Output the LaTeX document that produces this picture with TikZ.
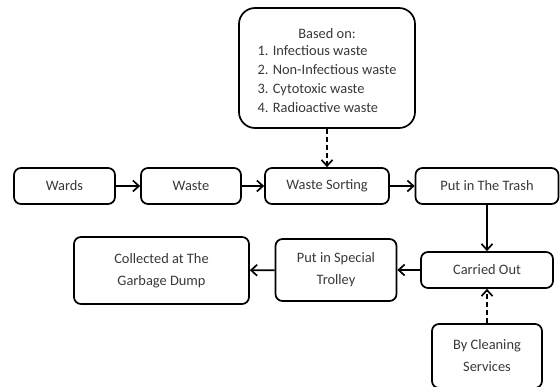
\documentclass[tikz,border=0pt]{standalone}
\usepackage{fontspec}
\setmainfont{Carlito}
\usetikzlibrary{arrows.meta}

\begin{document}
\begin{tikzpicture}
  [x=1pt,y=-1pt,line width=1.7pt,
   every node/.style={draw,rounded corners=7pt,align=center,text=black!78,
     font=\fontsize{14.4}{22}\selectfont,minimum height=36pt,inner sep=2pt},
   link/.style={-{Straight Barb[length=6pt,width=11pt]}},
   hint/.style={link,dash pattern=on 5pt off 3pt}]
  \useasboundingbox (0,0) rectangle (560,387);
  \node[minimum width=176pt,minimum height=120pt,rounded corners=16pt,
        font=\fontsize{14.4}{19}\selectfont] (1) at (327,68)
    {\rule{0pt}{21pt}Based on:\\[3pt]
     \begin{tabular}{@{}l@{}}
       1. Infectious waste\\
       2. Non-Infectious waste\\
       3. Cytotoxic waste\\
       4. Radioactive waste
     \end{tabular}};
  \node[minimum width=101pt] (2) at (64.5,186) {Wards};
  \node[minimum width=100pt] (3) at (191,186) {Waste};
  \node[minimum width=124pt] (4) at (327,186) {Waste Sorting};
  \node[minimum width=143pt] (5) at (487,186) {Put in The Trash};
  \node[minimum width=132pt] (6) at (487,270) {Carried Out};
  \node[minimum width=121pt,minimum height=62pt] (7) at (336,270) {Put in Special\\ Trolley};
  \node[minimum width=175pt,minimum height=67pt] (8) at (161.5,270.5) {Collected at The\\ Garbage Dump};
  \node[minimum width=110pt,minimum height=64pt] (9) at (487,356) {By Cleaning\\ Services};


  \foreach \from/\to in {2/3,3/4,4/5,5/6,6/7,7/8}
    \draw[link] (\from) -- (\to);
  \foreach \from/\to in {1/4,9/6}
    \draw[hint] (\from) -- (\to);

\end{tikzpicture}
\end{document}
